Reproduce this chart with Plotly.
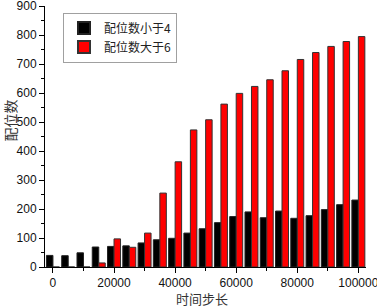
import plotly.graph_objects as go

steps = [0, 5000, 10000, 15000, 20000, 25000, 30000, 35000, 40000, 45000, 50000,
         55000, 60000, 65000, 70000, 75000, 80000, 85000, 90000, 95000, 100000]
less_than_4 = [40, 39, 49, 69, 71, 73, 83, 94, 99, 117, 132,
               153, 174, 190, 170, 193, 168, 177, 198, 215, 231]
greater_than_6 = [0, 0, 0, 14, 97, 68, 117, 255, 363, 473, 508,
                  562, 599, 623, 646, 677, 716, 740, 761, 778, 795]
x_ticks = [0, 20000, 40000, 60000, 80000, 100000]
y_ticks = [0, 100, 200, 300, 400, 500, 600, 700, 800, 900]
name_less = "配位数小于4"
name_greater = "配位数大于6"
x_title = "时间步长"
y_title = "配位数"

cjk = "Noto Sans CJK SC"
num_font = "Liberation Sans"

fig = go.Figure()
fig.add_trace(go.Bar(x=steps, y=less_than_4, name=name_less,
                     marker=dict(color="#000000", line=dict(color="#222222", width=1))))
fig.add_trace(go.Bar(x=steps, y=greater_than_6, name=name_greater,
                     marker=dict(color="#FF0000", line=dict(color="#333333", width=1))))

fig.update_layout(
    width=377, height=307,
    margin=dict(l=45, r=11, t=6, b=40, autoexpand=False),
    paper_bgcolor="white", plot_bgcolor="white",
    barmode="group", bargap=0.15, bargroupgap=0,
    showlegend=True,
    legend=dict(x=0.056, y=0.975, xanchor="left", yanchor="top",
                bordercolor="#a0a0a0", borderwidth=1, bgcolor="white",
                font=dict(family=cjk, size=12, color="#222222"),
                tracegroupgap=0, itemsizing="constant",
                itemwidth=30),
    font=dict(family=num_font, size=12, color="#111111"),
)
fig.update_xaxes(
    range=[-2600, 102500], tickmode="array",
    tickvals=x_ticks, ticktext=[str(v) for v in x_ticks],
    showline=True, linecolor="black", linewidth=1, mirror=False,
    ticks="outside", ticklen=5, tickcolor="black", showgrid=False, zeroline=False,
    tickfont=dict(family=num_font, size=12, color="#111111"),
    ticklabeloverflow="allow",
    minor=dict(dtick=10000, tick0=0, ticks="outside",
               ticklen=3, tickcolor="black", showgrid=False),
    automargin=False,
)
fig.update_yaxes(
    range=[0, 900.5], tickmode="array",
    tickvals=y_ticks, ticktext=[str(v) for v in y_ticks],
    showline=True, linecolor="black", linewidth=1,
    ticks="outside", ticklen=5, tickcolor="black", showgrid=False, zeroline=False,
    tickfont=dict(family=num_font, size=12, color="#111111"),
    ticklabeloverflow="allow",
    minor=dict(dtick=50, tick0=0, ticks="outside", ticklen=3, tickcolor="black", showgrid=False),
    automargin=False,
)
fig.add_annotation(text=y_title, xref="paper", yref="paper", x=-0.11, y=0.56,
                   xanchor="center", yanchor="middle", textangle=-90, showarrow=False,
                   font=dict(family=cjk, size=14, color="#333333"))
fig.add_annotation(text=x_title, xref="paper", yref="paper", x=0.49, y=-0.12,
                   xanchor="center", yanchor="middle", showarrow=False,
                   font=dict(family=cjk, size=13, color="#333333"))

fig.write_html("out.html", config={"displayModeBar": False},
               post_script="document.body.style.margin='0';document.body.style.padding='0';")
